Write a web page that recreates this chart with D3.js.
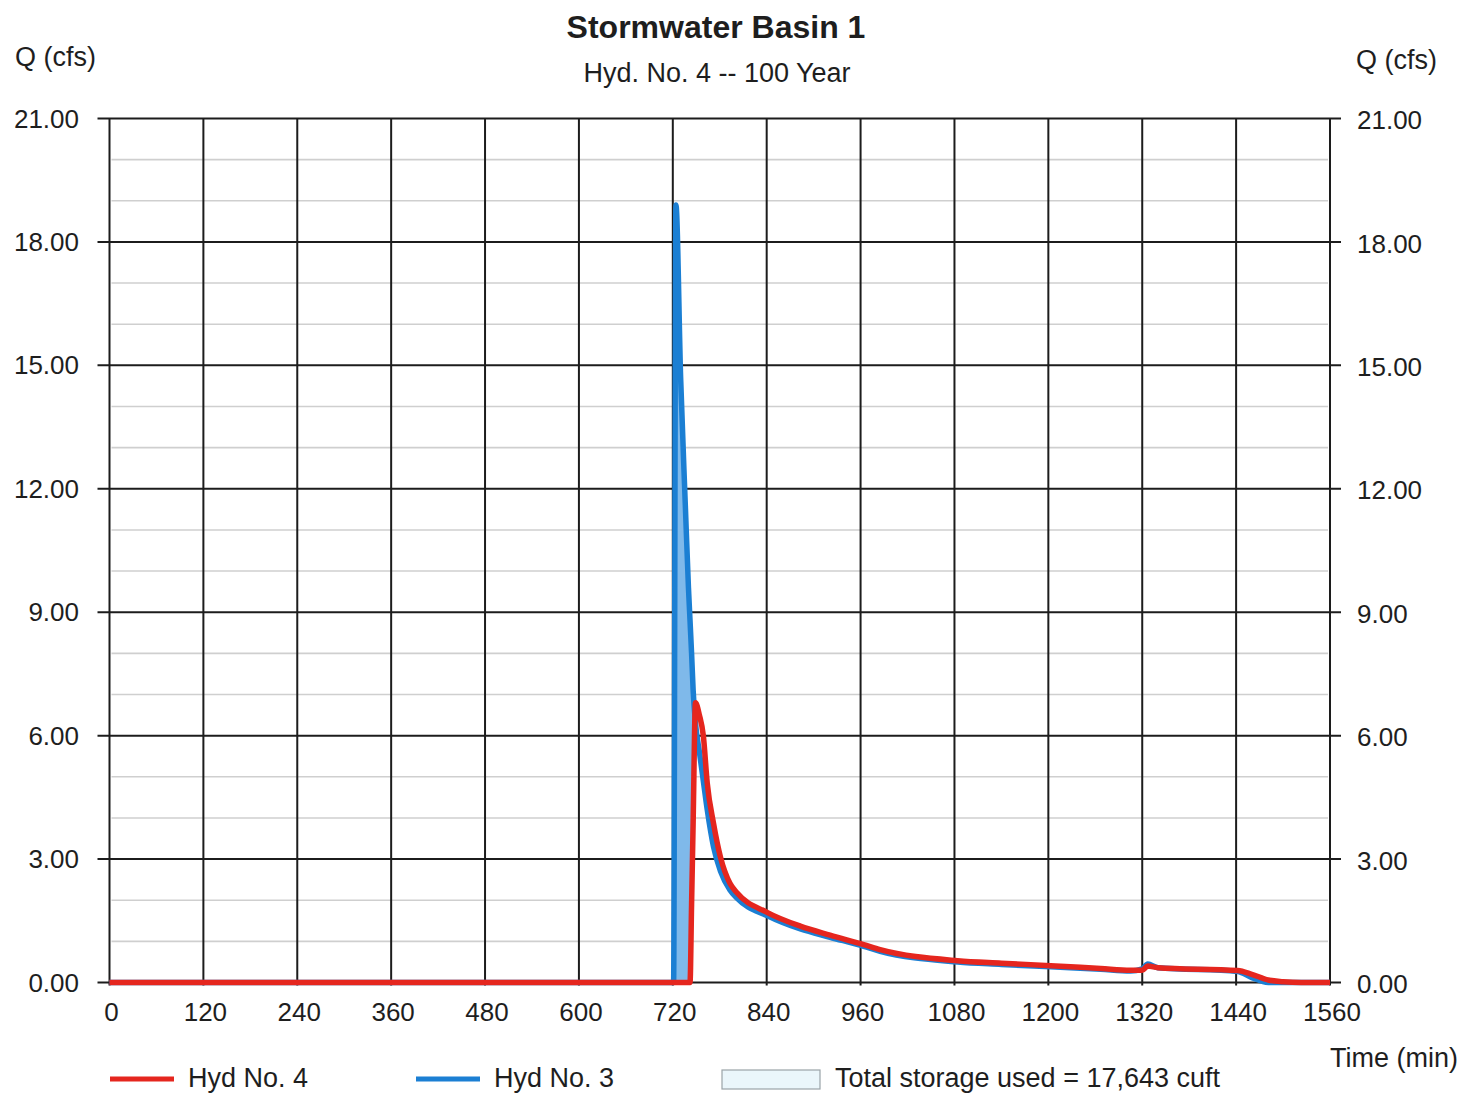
<!DOCTYPE html>
<html>
<head>
<meta charset="utf-8">
<script src="https://cdn.jsdelivr.net/npm/d3@7"></script>
<style>
  html, body { margin: 0; padding: 0; background: #fff; }
  svg { display: block; }
  text { font-family: "Liberation Sans", Arial, sans-serif; fill: #1e1e1e; }
</style>
</head>
<body>
<svg id="chart" width="1463" height="1093"></svg>
<script>
// Hydrograph timeline (minutes) shared by both hydrographs
const timeMin = [0, 600, 716, 721, 724, 730, 736, 740, 742, 744, 746, 749, 754, 759, 764, 772, 781, 793, 802,
                 841, 883, 921, 964, 985, 1084, 1140, 1203, 1267, 1305, 1320, 1327, 1340, 1442, 1460, 1481, 1500, 1523, 1560];
// Hyd No. 3 — inflow to the basin (cfs)
const hyd3Flow = [0, 0, 0, 0, 18.9, 14.7, 11.6, 9.6, 8.8, 8.0, 7.1, 6.3, 5.6, 4.9, 4.2, 3.3, 2.7, 2.25, 2.05,
                  1.62, 1.3, 1.1, 0.88, 0.76, 0.5, 0.44, 0.38, 0.32, 0.28, 0.33, 0.45, 0.36, 0.27, 0.12, 0.0, 0, 0, 0];
// Hyd No. 4 — routed outflow (cfs)
const hyd4Flow = [0, 0, 0, 0, 0, 0, 0, 0, 0, 1.9, 3.9, 6.8, 6.5, 6.0, 4.85, 3.87, 3.04, 2.41, 2.18,
                  1.70, 1.37, 1.15, 0.92, 0.80, 0.53, 0.47, 0.41, 0.34, 0.30, 0.30, 0.40, 0.36, 0.29, 0.20, 0.06, 0.02, 0, 0];

const xTicks = [0, 120, 240, 360, 480, 600, 720, 840, 960, 1080, 1200, 1320, 1440, 1560];
const yTicks = [0, 3, 6, 9, 12, 15, 18, 21];
const yMinor = [1, 2, 4, 5, 7, 8, 10, 11, 13, 14, 16, 17, 19, 20];

const titleText = "Stormwater Basin 1";
const subtitleText = "Hyd. No. 4 -- 100 Year";
const storageText = "Total storage used = 17,643 cuft";

const rows = timeMin.map((t, i) => ({ t, q3: hyd3Flow[i], q4: hyd4Flow[i] }));

const svg = d3.select("#chart");
const x = d3.scaleLinear().domain([0, 1560]).range([109.5, 1330]);
const y = d3.scaleLinear().domain([0, 21]).range([982.5, 118.5]);

const gridDark = "#1c1c1c";
const red = "#e5261e";
const blue = "#1b7fd3";

// minor horizontal grid
svg.append("g").selectAll("line").data(yMinor).join("line")
  .attr("x1", x(0) + 2).attr("x2", x(1560) - 2)
  .attr("y1", d => y(d)).attr("y2", d => y(d))
  .attr("stroke", "#cfcfcf").attr("stroke-width", 1.6);

// major horizontal grid, extended past the plot as ticks
svg.append("g").selectAll("line").data(yTicks).join("line")
  .attr("x1", x(0) - 12).attr("x2", x(1560) + 11)
  .attr("y1", d => y(d)).attr("y2", d => y(d))
  .attr("stroke", gridDark).attr("stroke-width", 2);

// vertical grid
svg.append("g").selectAll("line").data(xTicks).join("line")
  .attr("x1", d => x(d)).attr("x2", d => x(d))
  .attr("y1", y(21)).attr("y2", y(0) + 3)
  .attr("stroke", gridDark).attr("stroke-width", 2);

// storage volume: region where inflow exceeds outflow
const storageArea = d3.area()
  .x(d => x(d.t))
  .y0(d => y(d.q4))
  .y1(d => y(Math.max(d.q3, d.q4)));
svg.append("path")
  .datum(rows.filter(d => d.t >= 716 && d.t <= 754))
  .attr("d", storageArea)
  .attr("fill", "#7fb9ea");

const line3 = d3.line().x(d => x(d.t)).y(d => y(d.q3)).curve(d3.curveMonotoneX);
const line4 = d3.line().x(d => x(d.t)).y(d => y(d.q4)).curve(d3.curveMonotoneX);

svg.append("path").datum(rows).attr("d", line3)
  .attr("fill", "none").attr("stroke", blue).attr("stroke-width", 5.5)
  .attr("stroke-linejoin", "round");
svg.append("path").datum(rows).attr("d", line4)
  .attr("fill", "none").attr("stroke", red).attr("stroke-width", 5.5)
  .attr("stroke-linejoin", "round");

// y-axis labels, both sides
const fmt = d3.format(".2f");
svg.append("g").selectAll("text").data(yTicks).join("text")
  .attr("x", 79).attr("y", d => y(d)).attr("dy", "0.35em")
  .attr("text-anchor", "end").attr("font-size", 26).text(d => fmt(d));
svg.append("g").selectAll("text").data(yTicks).join("text")
  .attr("x", 1357).attr("y", d => y(d) + 1.5).attr("dy", "0.35em")
  .attr("text-anchor", "start").attr("font-size", 26).text(d => fmt(d));

// x-axis labels
svg.append("g").selectAll("text").data(xTicks).join("text")
  .attr("x", d => x(d) + 2).attr("y", 1021)
  .attr("text-anchor", "middle").attr("font-size", 26).text(d => d);

// titles and axis names
svg.append("text").attr("x", 716).attr("y", 38).attr("text-anchor", "middle")
  .attr("font-size", 32).attr("font-weight", "bold").text(titleText);
svg.append("text").attr("x", 717).attr("y", 82).attr("text-anchor", "middle")
  .attr("font-size", 27).text(subtitleText);
svg.append("text").attr("x", 15).attr("y", 66).attr("font-size", 27).text("Q (cfs)");
svg.append("text").attr("x", 1356).attr("y", 69).attr("font-size", 27).text("Q (cfs)");
svg.append("text").attr("x", 1458).attr("y", 1067).attr("text-anchor", "end")
  .attr("font-size", 27).text("Time (min)");

// legend
const legend = svg.append("g");
legend.append("line").attr("x1", 110).attr("x2", 174).attr("y1", 1079).attr("y2", 1079)
  .attr("stroke", red).attr("stroke-width", 5);
legend.append("text").attr("x", 188).attr("y", 1087).attr("font-size", 27).text("Hyd No. 4");
legend.append("line").attr("x1", 416).attr("x2", 480).attr("y1", 1079).attr("y2", 1079)
  .attr("stroke", blue).attr("stroke-width", 5);
legend.append("text").attr("x", 494).attr("y", 1087).attr("font-size", 27).text("Hyd No. 3");
legend.append("rect").attr("x", 722).attr("y", 1070).attr("width", 98).attr("height", 19)
  .attr("fill", "#eaf6fb").attr("stroke", "#9aa4a8").attr("stroke-width", 1.2);
legend.append("text").attr("x", 835).attr("y", 1087).attr("font-size", 27).text(storageText);
</script>
</body>
</html>
